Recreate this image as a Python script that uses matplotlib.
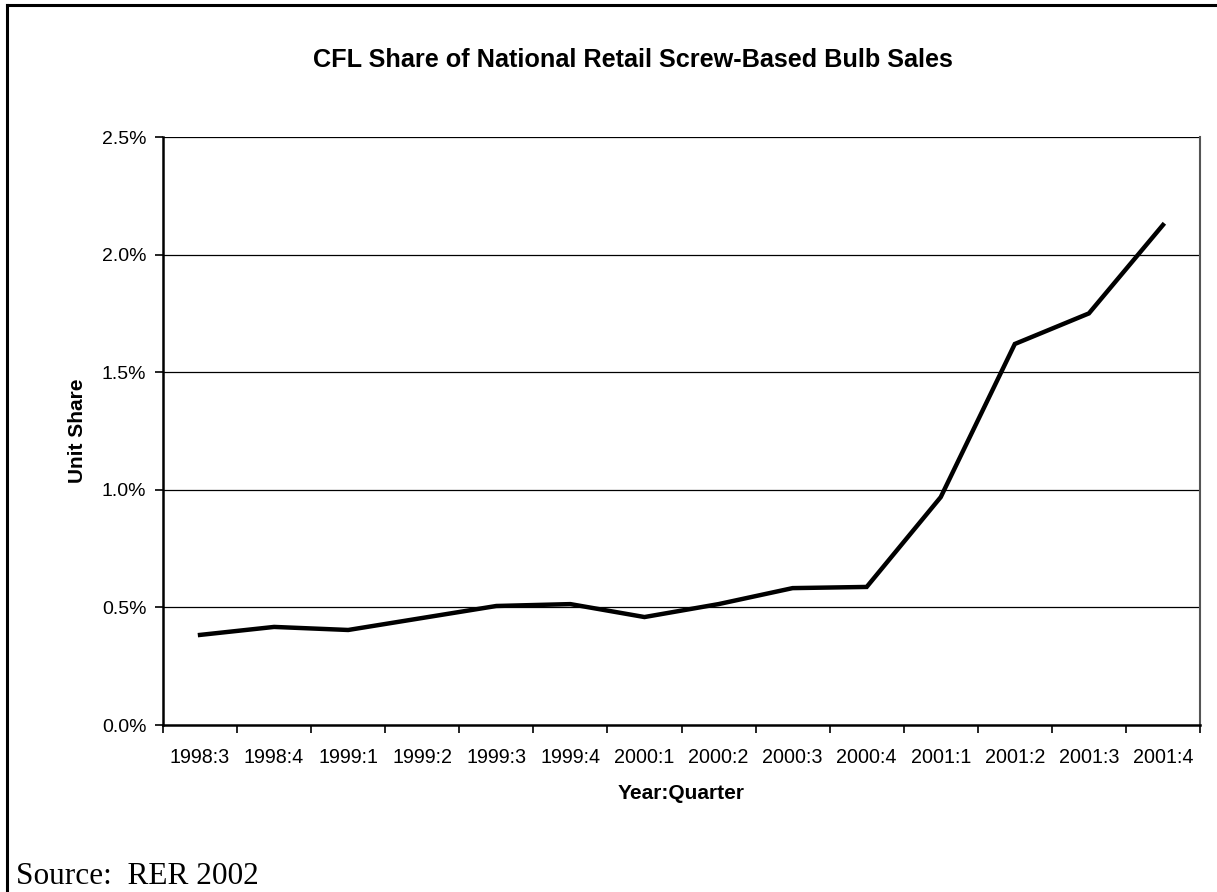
import numpy as np
import matplotlib.pyplot as plt
from matplotlib.lines import Line2D
from matplotlib.ticker import FuncFormatter

plt.rcParams['font.family'] = ['Liberation Sans', 'DejaVu Sans']

quarters = ['1998:3', '1998:4', '1999:1', '1999:2', '1999:3', '1999:4', '2000:1',
            '2000:2', '2000:3', '2000:4', '2001:1', '2001:2', '2001:3', '2001:4']
share = [0.383, 0.417, 0.404, 0.455, 0.506, 0.514, 0.459,
         0.514, 0.582, 0.587, 0.969, 1.62, 1.75, 2.126]  # percent
yticks = [0.0, 0.5, 1.0, 1.5, 2.0, 2.5]

fig = plt.figure(figsize=(12.17, 8.92), dpi=100)
ax = fig.add_axes([163/1217, 1 - 725/892, (1200 - 163)/1217, (725 - 137)/892])

x = np.arange(len(quarters))
ax.plot(x, share, color='black', lw=3.2, solid_joinstyle='miter', zorder=3)

ax.set_xlim(-0.5, len(quarters) - 0.5)
ax.set_ylim(0, 2.5)
ax.set_yticks(yticks)
ax.yaxis.set_major_formatter(FuncFormatter(lambda v, p: f'{v:.1f}%'))
ax.set_xticks(x)
ax.set_xticklabels(quarters)
ax.set_xticks(np.arange(-0.5, len(quarters)), minor=True)
ax.tick_params(axis='x', which='major', length=0, pad=16.5, labelsize=14.2)
ax.tick_params(axis='x', which='minor', length=6, width=1.2, direction='out')
ax.tick_params(axis='y', length=6, width=1.2, direction='out', pad=6, labelsize=14)

for v in yticks[1:]:
    ax.axhline(v, color='black', lw=0.9, zorder=1)

ax.spines['top'].set_visible(False)
ax.spines['right'].set_color('#555555')
ax.spines['right'].set_linewidth(1.5)
ax.spines['left'].set_linewidth(1.8)
ax.spines['bottom'].set_linewidth(1.8)

ax.set_xlabel('Year:Quarter', fontsize=15, fontweight='bold', labelpad=12)
ax.set_ylabel('Unit Share', fontsize=15, fontweight='bold', labelpad=11)
fig.text(633/1217, 1 - 60/892, 'CFL Share of National Retail Screw-Based Bulb Sales',
         ha='center', va='center', fontsize=18.2, fontweight='bold')

# outer frame
fig.add_artist(Line2D([7/1217, 1], [1 - 5/892, 1 - 5/892], color='black', lw=2.2))
fig.add_artist(Line2D([7/1217, 7/1217], [0, 1 - 5/892], color='black', lw=2.2))

fig.text(16/1217, 1 - 884/892, 'Source:  RER 2002', family=['Liberation Serif', 'DejaVu Serif'],
         fontsize=22.5, ha='left', va='baseline')

fig.savefig('out.png', dpi=100)
